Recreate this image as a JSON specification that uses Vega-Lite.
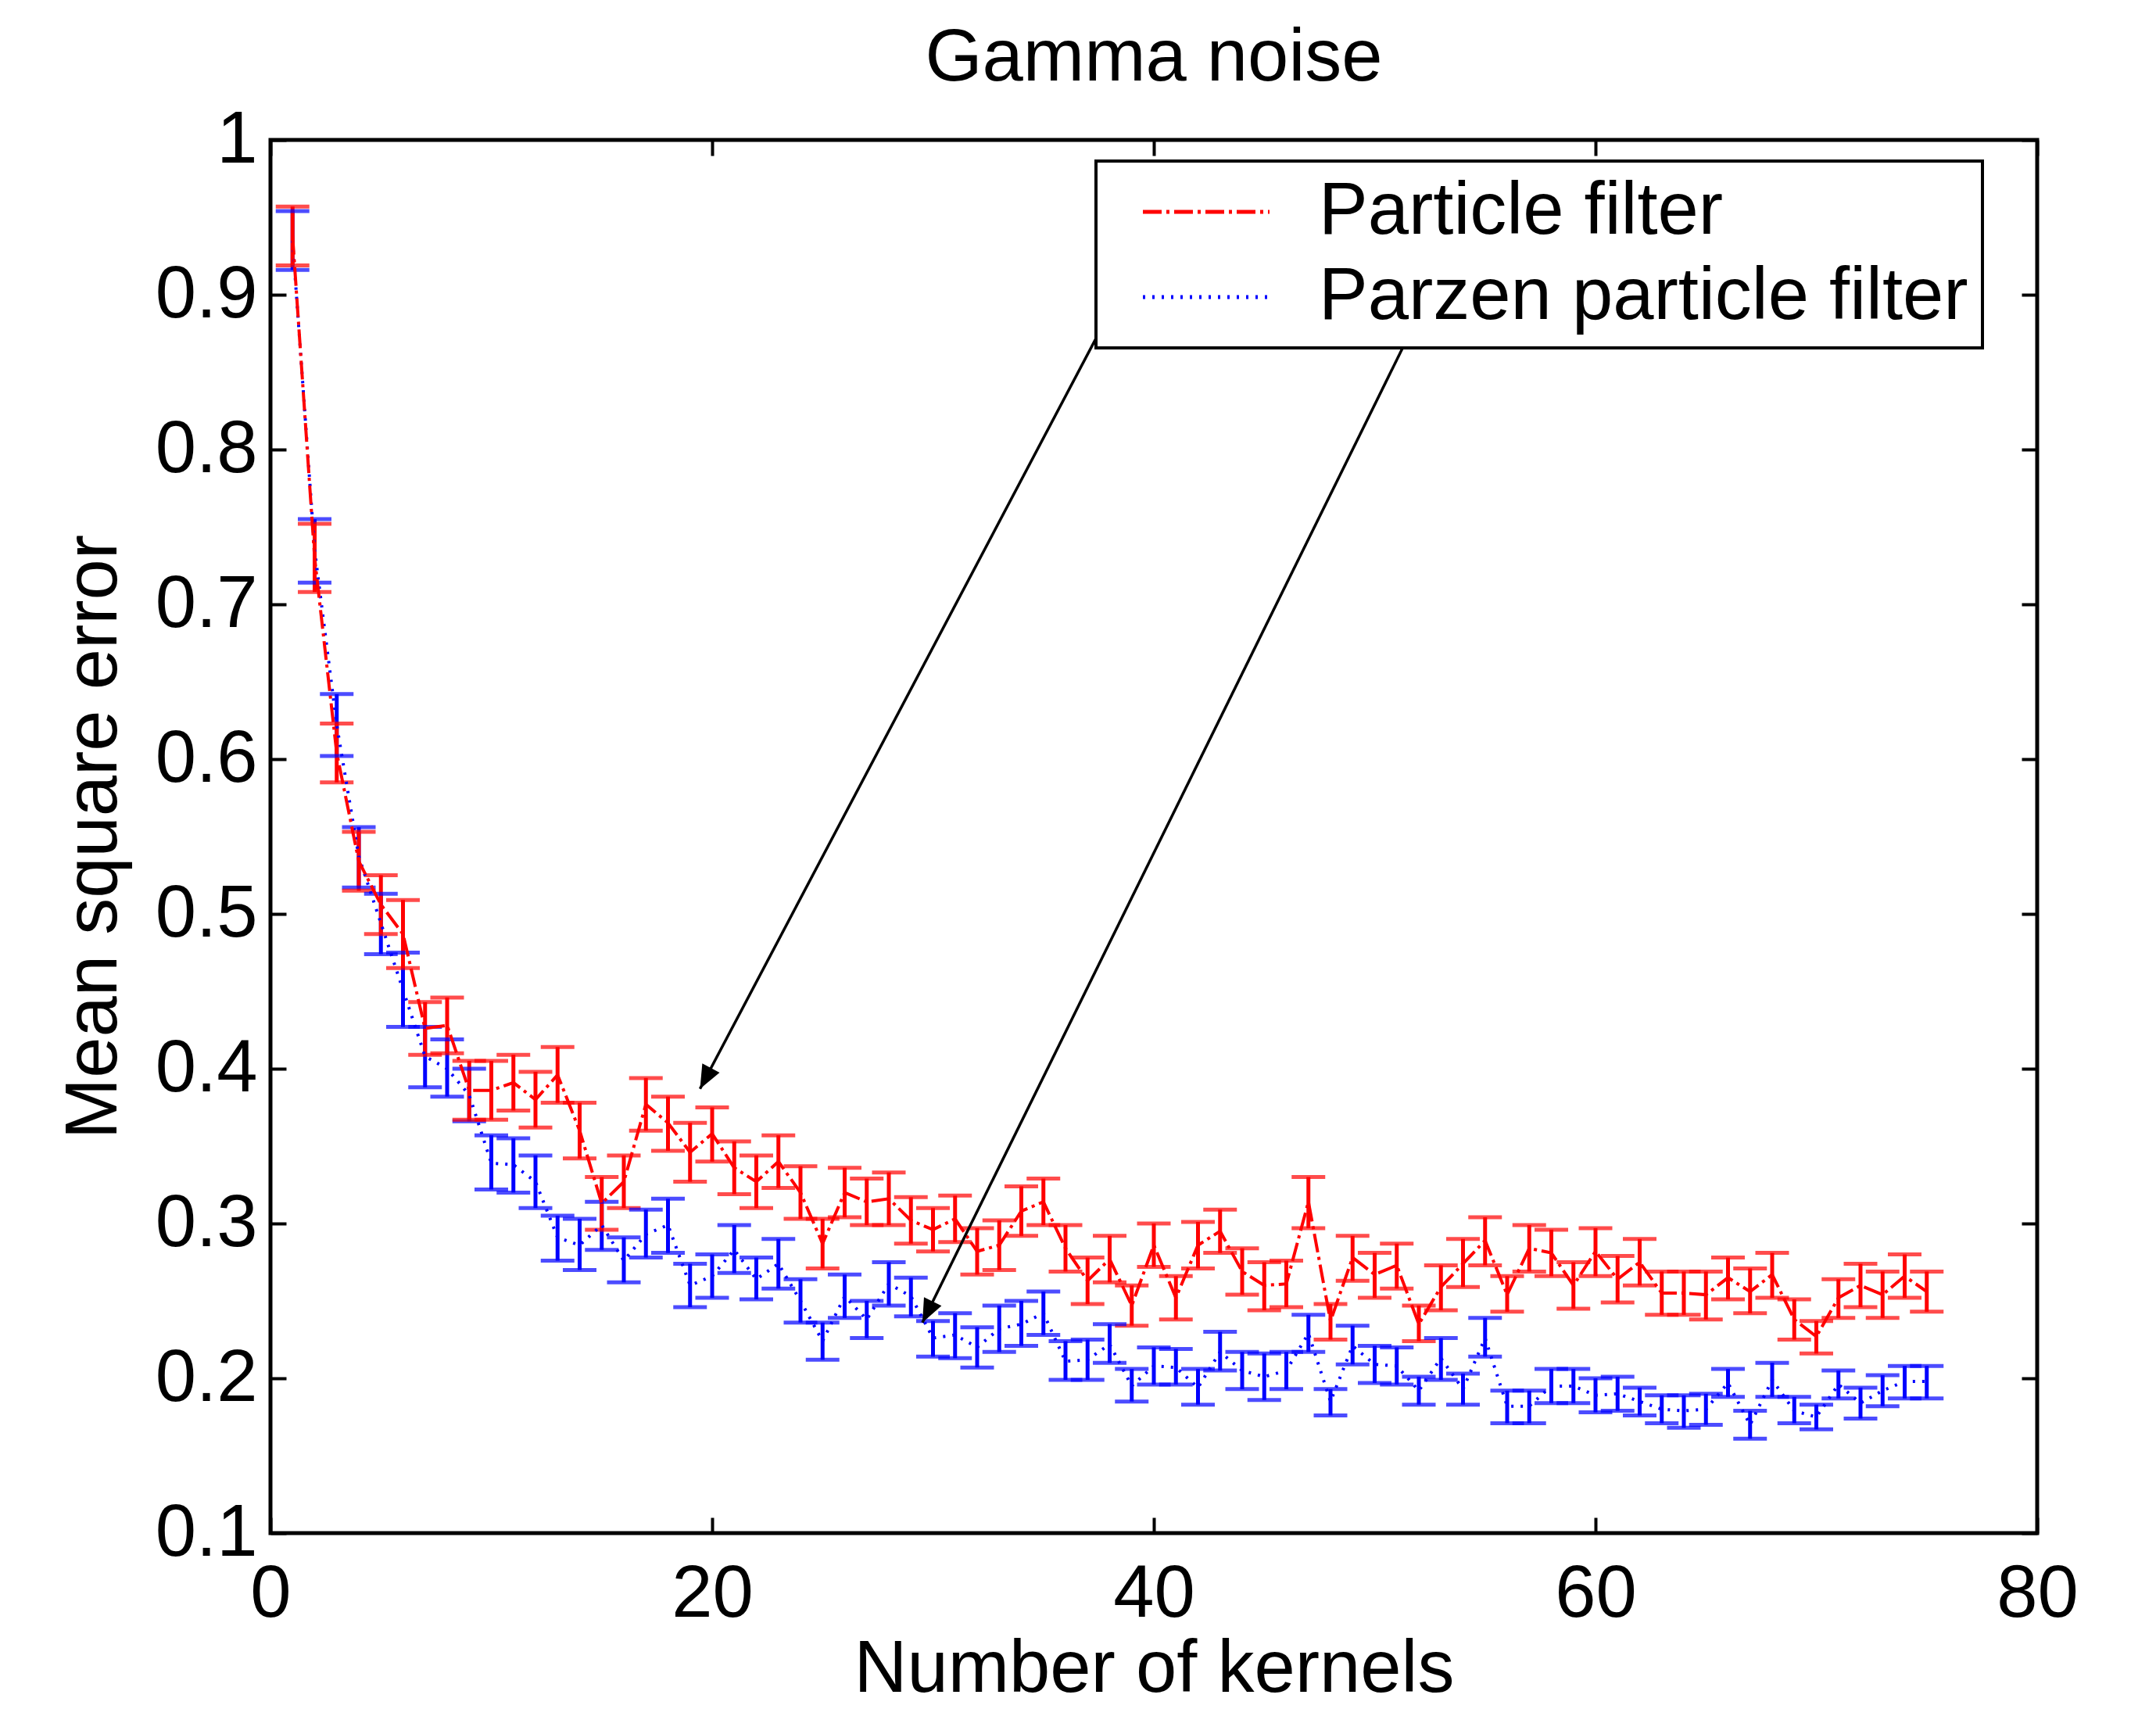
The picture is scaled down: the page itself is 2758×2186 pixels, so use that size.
{
"$schema": "https://vega.github.io/schema/vega-lite/v6.json",
"width": 2260, "height": 1782,
"autosize": {"type": "none"},
"padding": {"left": 346, "top": 179, "right": 152, "bottom": 225},
"background": "white",
"title": {"text": "Gamma noise", "fontSize": 94, "font": "Liberation Sans", "fontWeight": "normal", "color": "black", "anchor": "middle", "frame": "group", "baseline": "bottom", "offset": -85},
"config": {
  "view": {"stroke": "black", "strokeWidth": 5},
  "font": "Liberation Sans",
  "axis": {"grid": false, "domain": false, "tickColor": "black", "tickWidth": 4, "tickSize": -20, "labelColor": "black", "labelFont": "Liberation Sans", "labelFontSize": 94, "titleFont": "Liberation Sans", "titleFontSize": 94, "titleFontWeight": "normal", "titleColor": "black", "labelFlush": false, "labelOverlap": false, "labelBound": false},
  "legend": {"strokeWidth": 4}
},
"datasets": {
"pts": [
{"kernels":1,"series":"Parzen particle filter","mse":0.935,"lo":0.916,"hi":0.954},
{"kernels":2,"series":"Parzen particle filter","mse":0.735,"lo":0.714,"hi":0.755},
{"kernels":3,"series":"Parzen particle filter","mse":0.622,"lo":0.602,"hi":0.642},
{"kernels":4,"series":"Parzen particle filter","mse":0.537,"lo":0.517,"hi":0.556},
{"kernels":5,"series":"Parzen particle filter","mse":0.494,"lo":0.474,"hi":0.513},
{"kernels":6,"series":"Parzen particle filter","mse":0.451,"lo":0.427,"hi":0.475},
{"kernels":7,"series":"Parzen particle filter","mse":0.408,"lo":0.388,"hi":0.427},
{"kernels":8,"series":"Parzen particle filter","mse":0.400,"lo":0.382,"hi":0.419},
{"kernels":9,"series":"Parzen particle filter","mse":0.383,"lo":0.366,"hi":0.400},
{"kernels":10,"series":"Parzen particle filter","mse":0.339,"lo":0.322,"hi":0.357},
{"kernels":11,"series":"Parzen particle filter","mse":0.338,"lo":0.320,"hi":0.355},
{"kernels":12,"series":"Parzen particle filter","mse":0.327,"lo":0.310,"hi":0.344},
{"kernels":13,"series":"Parzen particle filter","mse":0.291,"lo":0.276,"hi":0.305},
{"kernels":14,"series":"Parzen particle filter","mse":0.286,"lo":0.270,"hi":0.303},
{"kernels":15,"series":"Parzen particle filter","mse":0.299,"lo":0.283,"hi":0.314},
{"kernels":16,"series":"Parzen particle filter","mse":0.276,"lo":0.262,"hi":0.291},
{"kernels":17,"series":"Parzen particle filter","mse":0.293,"lo":0.278,"hi":0.309},
{"kernels":18,"series":"Parzen particle filter","mse":0.299,"lo":0.281,"hi":0.316},
{"kernels":19,"series":"Parzen particle filter","mse":0.260,"lo":0.246,"hi":0.274},
{"kernels":20,"series":"Parzen particle filter","mse":0.266,"lo":0.252,"hi":0.280},
{"kernels":21,"series":"Parzen particle filter","mse":0.283,"lo":0.268,"hi":0.299},
{"kernels":22,"series":"Parzen particle filter","mse":0.264,"lo":0.251,"hi":0.278},
{"kernels":23,"series":"Parzen particle filter","mse":0.274,"lo":0.258,"hi":0.290},
{"kernels":24,"series":"Parzen particle filter","mse":0.250,"lo":0.236,"hi":0.264},
{"kernels":25,"series":"Parzen particle filter","mse":0.224,"lo":0.212,"hi":0.236},
{"kernels":26,"series":"Parzen particle filter","mse":0.253,"lo":0.239,"hi":0.267},
{"kernels":27,"series":"Parzen particle filter","mse":0.238,"lo":0.226,"hi":0.250},
{"kernels":28,"series":"Parzen particle filter","mse":0.261,"lo":0.247,"hi":0.275},
{"kernels":29,"series":"Parzen particle filter","mse":0.253,"lo":0.240,"hi":0.265},
{"kernels":30,"series":"Parzen particle filter","mse":0.226,"lo":0.214,"hi":0.237},
{"kernels":31,"series":"Parzen particle filter","mse":0.228,"lo":0.213,"hi":0.242},
{"kernels":32,"series":"Parzen particle filter","mse":0.220,"lo":0.207,"hi":0.233},
{"kernels":33,"series":"Parzen particle filter","mse":0.232,"lo":0.217,"hi":0.247},
{"kernels":34,"series":"Parzen particle filter","mse":0.235,"lo":0.221,"hi":0.250},
{"kernels":35,"series":"Parzen particle filter","mse":0.242,"lo":0.228,"hi":0.256},
{"kernels":36,"series":"Parzen particle filter","mse":0.211,"lo":0.199,"hi":0.224},
{"kernels":37,"series":"Parzen particle filter","mse":0.212,"lo":0.199,"hi":0.225},
{"kernels":38,"series":"Parzen particle filter","mse":0.222,"lo":0.210,"hi":0.235},
{"kernels":39,"series":"Parzen particle filter","mse":0.195,"lo":0.185,"hi":0.206},
{"kernels":40,"series":"Parzen particle filter","mse":0.208,"lo":0.196,"hi":0.220},
{"kernels":41,"series":"Parzen particle filter","mse":0.207,"lo":0.196,"hi":0.219},
{"kernels":42,"series":"Parzen particle filter","mse":0.194,"lo":0.183,"hi":0.206},
{"kernels":43,"series":"Parzen particle filter","mse":0.217,"lo":0.205,"hi":0.230},
{"kernels":44,"series":"Parzen particle filter","mse":0.205,"lo":0.193,"hi":0.217},
{"kernels":45,"series":"Parzen particle filter","mse":0.201,"lo":0.186,"hi":0.216},
{"kernels":46,"series":"Parzen particle filter","mse":0.205,"lo":0.193,"hi":0.217},
{"kernels":47,"series":"Parzen particle filter","mse":0.229,"lo":0.217,"hi":0.241},
{"kernels":48,"series":"Parzen particle filter","mse":0.185,"lo":0.176,"hi":0.193},
{"kernels":49,"series":"Parzen particle filter","mse":0.221,"lo":0.209,"hi":0.234},
{"kernels":50,"series":"Parzen particle filter","mse":0.209,"lo":0.197,"hi":0.221},
{"kernels":51,"series":"Parzen particle filter","mse":0.208,"lo":0.196,"hi":0.220},
{"kernels":52,"series":"Parzen particle filter","mse":0.192,"lo":0.183,"hi":0.201},
{"kernels":53,"series":"Parzen particle filter","mse":0.213,"lo":0.199,"hi":0.226},
{"kernels":54,"series":"Parzen particle filter","mse":0.193,"lo":0.183,"hi":0.203},
{"kernels":55,"series":"Parzen particle filter","mse":0.226,"lo":0.214,"hi":0.239},
{"kernels":56,"series":"Parzen particle filter","mse":0.182,"lo":0.171,"hi":0.192},
{"kernels":57,"series":"Parzen particle filter","mse":0.182,"lo":0.171,"hi":0.192},
{"kernels":58,"series":"Parzen particle filter","mse":0.195,"lo":0.184,"hi":0.206},
{"kernels":59,"series":"Parzen particle filter","mse":0.195,"lo":0.184,"hi":0.206},
{"kernels":60,"series":"Parzen particle filter","mse":0.189,"lo":0.178,"hi":0.200},
{"kernels":61,"series":"Parzen particle filter","mse":0.190,"lo":0.179,"hi":0.201},
{"kernels":62,"series":"Parzen particle filter","mse":0.185,"lo":0.176,"hi":0.194},
{"kernels":63,"series":"Parzen particle filter","mse":0.180,"lo":0.171,"hi":0.189},
{"kernels":64,"series":"Parzen particle filter","mse":0.179,"lo":0.168,"hi":0.189},
{"kernels":65,"series":"Parzen particle filter","mse":0.180,"lo":0.170,"hi":0.190},
{"kernels":66,"series":"Parzen particle filter","mse":0.197,"lo":0.188,"hi":0.206},
{"kernels":67,"series":"Parzen particle filter","mse":0.170,"lo":0.161,"hi":0.179},
{"kernels":68,"series":"Parzen particle filter","mse":0.199,"lo":0.188,"hi":0.210},
{"kernels":69,"series":"Parzen particle filter","mse":0.179,"lo":0.171,"hi":0.188},
{"kernels":70,"series":"Parzen particle filter","mse":0.175,"lo":0.167,"hi":0.183},
{"kernels":71,"series":"Parzen particle filter","mse":0.196,"lo":0.187,"hi":0.205},
{"kernels":72,"series":"Parzen particle filter","mse":0.184,"lo":0.174,"hi":0.194},
{"kernels":73,"series":"Parzen particle filter","mse":0.192,"lo":0.182,"hi":0.202},
{"kernels":74,"series":"Parzen particle filter","mse":0.198,"lo":0.187,"hi":0.208},
{"kernels":75,"series":"Parzen particle filter","mse":0.198,"lo":0.187,"hi":0.208},
{"kernels":1,"series":"Particle filter","mse":0.938,"lo":0.919,"hi":0.957},
{"kernels":2,"series":"Particle filter","mse":0.730,"lo":0.708,"hi":0.752},
{"kernels":3,"series":"Particle filter","mse":0.604,"lo":0.585,"hi":0.623},
{"kernels":4,"series":"Particle filter","mse":0.534,"lo":0.515,"hi":0.553},
{"kernels":5,"series":"Particle filter","mse":0.506,"lo":0.487,"hi":0.525},
{"kernels":6,"series":"Particle filter","mse":0.487,"lo":0.465,"hi":0.509},
{"kernels":7,"series":"Particle filter","mse":0.426,"lo":0.409,"hi":0.443},
{"kernels":8,"series":"Particle filter","mse":0.428,"lo":0.410,"hi":0.446},
{"kernels":9,"series":"Particle filter","mse":0.386,"lo":0.367,"hi":0.405},
{"kernels":10,"series":"Particle filter","mse":0.386,"lo":0.367,"hi":0.405},
{"kernels":11,"series":"Particle filter","mse":0.391,"lo":0.373,"hi":0.409},
{"kernels":12,"series":"Particle filter","mse":0.380,"lo":0.362,"hi":0.398},
{"kernels":13,"series":"Particle filter","mse":0.396,"lo":0.378,"hi":0.414},
{"kernels":14,"series":"Particle filter","mse":0.360,"lo":0.342,"hi":0.378},
{"kernels":15,"series":"Particle filter","mse":0.313,"lo":0.296,"hi":0.330},
{"kernels":16,"series":"Particle filter","mse":0.327,"lo":0.310,"hi":0.344},
{"kernels":17,"series":"Particle filter","mse":0.377,"lo":0.360,"hi":0.394},
{"kernels":18,"series":"Particle filter","mse":0.365,"lo":0.347,"hi":0.382},
{"kernels":19,"series":"Particle filter","mse":0.346,"lo":0.327,"hi":0.365},
{"kernels":20,"series":"Particle filter","mse":0.358,"lo":0.340,"hi":0.375},
{"kernels":21,"series":"Particle filter","mse":0.336,"lo":0.319,"hi":0.353},
{"kernels":22,"series":"Particle filter","mse":0.327,"lo":0.310,"hi":0.344},
{"kernels":23,"series":"Particle filter","mse":0.340,"lo":0.323,"hi":0.357},
{"kernels":24,"series":"Particle filter","mse":0.320,"lo":0.303,"hi":0.337},
{"kernels":25,"series":"Particle filter","mse":0.287,"lo":0.271,"hi":0.303},
{"kernels":26,"series":"Particle filter","mse":0.320,"lo":0.304,"hi":0.336},
{"kernels":27,"series":"Particle filter","mse":0.314,"lo":0.299,"hi":0.329},
{"kernels":28,"series":"Particle filter","mse":0.316,"lo":0.299,"hi":0.333},
{"kernels":29,"series":"Particle filter","mse":0.302,"lo":0.287,"hi":0.317},
{"kernels":30,"series":"Particle filter","mse":0.296,"lo":0.282,"hi":0.310},
{"kernels":31,"series":"Particle filter","mse":0.303,"lo":0.288,"hi":0.318},
{"kernels":32,"series":"Particle filter","mse":0.282,"lo":0.267,"hi":0.297},
{"kernels":33,"series":"Particle filter","mse":0.286,"lo":0.270,"hi":0.302},
{"kernels":34,"series":"Particle filter","mse":0.308,"lo":0.292,"hi":0.324},
{"kernels":35,"series":"Particle filter","mse":0.314,"lo":0.299,"hi":0.329},
{"kernels":36,"series":"Particle filter","mse":0.284,"lo":0.269,"hi":0.299},
{"kernels":37,"series":"Particle filter","mse":0.263,"lo":0.248,"hi":0.278},
{"kernels":38,"series":"Particle filter","mse":0.277,"lo":0.262,"hi":0.292},
{"kernels":39,"series":"Particle filter","mse":0.247,"lo":0.234,"hi":0.260},
{"kernels":40,"series":"Particle filter","mse":0.286,"lo":0.272,"hi":0.300},
{"kernels":41,"series":"Particle filter","mse":0.252,"lo":0.238,"hi":0.266},
{"kernels":42,"series":"Particle filter","mse":0.286,"lo":0.271,"hi":0.301},
{"kernels":43,"series":"Particle filter","mse":0.295,"lo":0.281,"hi":0.309},
{"kernels":44,"series":"Particle filter","mse":0.269,"lo":0.254,"hi":0.284},
{"kernels":45,"series":"Particle filter","mse":0.260,"lo":0.244,"hi":0.275},
{"kernels":46,"series":"Particle filter","mse":0.261,"lo":0.246,"hi":0.276},
{"kernels":47,"series":"Particle filter","mse":0.314,"lo":0.297,"hi":0.330},
{"kernels":48,"series":"Particle filter","mse":0.237,"lo":0.225,"hi":0.248},
{"kernels":49,"series":"Particle filter","mse":0.278,"lo":0.263,"hi":0.292},
{"kernels":50,"series":"Particle filter","mse":0.267,"lo":0.252,"hi":0.281},
{"kernels":51,"series":"Particle filter","mse":0.273,"lo":0.258,"hi":0.287},
{"kernels":52,"series":"Particle filter","mse":0.235,"lo":0.224,"hi":0.247},
{"kernels":53,"series":"Particle filter","mse":0.259,"lo":0.244,"hi":0.273},
{"kernels":54,"series":"Particle filter","mse":0.274,"lo":0.259,"hi":0.290},
{"kernels":55,"series":"Particle filter","mse":0.289,"lo":0.273,"hi":0.304},
{"kernels":56,"series":"Particle filter","mse":0.254,"lo":0.243,"hi":0.266},
{"kernels":57,"series":"Particle filter","mse":0.284,"lo":0.269,"hi":0.299},
{"kernels":58,"series":"Particle filter","mse":0.281,"lo":0.266,"hi":0.296},
{"kernels":59,"series":"Particle filter","mse":0.260,"lo":0.245,"hi":0.275},
{"kernels":60,"series":"Particle filter","mse":0.282,"lo":0.266,"hi":0.297},
{"kernels":61,"series":"Particle filter","mse":0.264,"lo":0.249,"hi":0.279},
{"kernels":62,"series":"Particle filter","mse":0.275,"lo":0.260,"hi":0.290},
{"kernels":63,"series":"Particle filter","mse":0.255,"lo":0.241,"hi":0.269},
{"kernels":64,"series":"Particle filter","mse":0.255,"lo":0.241,"hi":0.269},
{"kernels":65,"series":"Particle filter","mse":0.254,"lo":0.238,"hi":0.269},
{"kernels":66,"series":"Particle filter","mse":0.265,"lo":0.251,"hi":0.278},
{"kernels":67,"series":"Particle filter","mse":0.256,"lo":0.242,"hi":0.271},
{"kernels":68,"series":"Particle filter","mse":0.267,"lo":0.252,"hi":0.281},
{"kernels":69,"series":"Particle filter","mse":0.238,"lo":0.225,"hi":0.251},
{"kernels":70,"series":"Particle filter","mse":0.227,"lo":0.216,"hi":0.237},
{"kernels":71,"series":"Particle filter","mse":0.252,"lo":0.239,"hi":0.264},
{"kernels":72,"series":"Particle filter","mse":0.260,"lo":0.246,"hi":0.274},
{"kernels":73,"series":"Particle filter","mse":0.254,"lo":0.239,"hi":0.269},
{"kernels":74,"series":"Particle filter","mse":0.266,"lo":0.252,"hi":0.280},
{"kernels":75,"series":"Particle filter","mse":0.256,"lo":0.243,"hi":0.269}
],
"arrows": [
{"from_k": 39.94, "from_v": 0.941, "to_k": 19.45, "to_v": 0.387, "angle": 207.8},
{"from_k": 51.28, "from_v": 0.866, "to_k": 29.52, "to_v": 0.236, "angle": 206.2}
]
},
"data": {"name": "pts"},
"layer": [
  {
    "mark": {"type": "rule", "strokeWidth": 5},
    "encoding": {
      "x": {"field": "kernels", "type": "quantitative", "scale": {"domain": [0, 80], "nice": false, "zero": false},
            "axis": {"title": "Number of kernels", "values": [0, 20, 40, 60, 80], "labelPadding": 52, "titlePadding": 3}},
      "y": {"field": "lo", "type": "quantitative", "scale": {"domain": [0.1, 1], "nice": false, "zero": false},
            "axis": {"title": "Mean square error", "values": [0.1, 0.2, 0.3, 0.4, 0.5, 0.6, 0.7, 0.8, 0.9, 1], "format": "~g", "labelPadding": 37, "titlePadding": 30}},
      "y2": {"field": "hi"},
      "color": {"condition": {"test": "datum.series === 'Particle filter'", "value": "#ff0000"}, "value": "#0000ff"}
    }
  },
  {
    "mark": {"type": "tick", "orient": "horizontal", "size": 43, "thickness": 5},
    "encoding": {
      "x": {"field": "kernels", "type": "quantitative", "axis": null},
      "y": {"field": "lo", "type": "quantitative", "axis": null},
      "color": {"condition": {"test": "datum.series === 'Particle filter'", "value": "#ff0000"}, "value": "#0000ff"}
    }
  },
  {
    "mark": {"type": "tick", "orient": "horizontal", "size": 43, "thickness": 5},
    "encoding": {
      "x": {"field": "kernels", "type": "quantitative", "axis": null},
      "y": {"field": "hi", "type": "quantitative", "axis": null},
      "color": {"condition": {"test": "datum.series === 'Particle filter'", "value": "#ff0000"}, "value": "#0000ff"}
    }
  },
  {
    "mark": {"type": "line", "strokeWidth": 4},
    "encoding": {
      "x": {"field": "kernels", "type": "quantitative", "axis": null},
      "y": {"field": "mse", "type": "quantitative", "axis": null},
      "color": {"field": "series", "type": "nominal", "title": null,
        "scale": {"domain": ["Particle filter", "Parzen particle filter"], "range": ["#ff0000", "#0000ff"]},
        "legend": {"orient": "none", "legendX": 1056, "legendY": 27, "fillColor": "white", "strokeColor": "black", "padding": 18, "labelFont": "Liberation Sans", "labelFontSize": 94, "labelColor": "black", "symbolSize": 6561, "symbolStrokeWidth": 5, "symbolOffset": 76, "labelOffset": 97, "rowPadding": 15, "labelLimit": 2000, "symbolType": "M-2,0L2,0"}},
      "strokeDash": {"field": "series", "type": "nominal", "title": null,
        "scale": {"domain": ["Particle filter", "Parzen particle filter"], "range": [[24, 6, 4, 6], [3, 9]]},
        "legend": {"orient": "none", "legendX": 1056, "legendY": 27, "fillColor": "white", "strokeColor": "black", "padding": 18, "labelFont": "Liberation Sans", "labelFontSize": 94, "labelColor": "black", "symbolSize": 6561, "symbolStrokeWidth": 5, "symbolOffset": 76, "labelOffset": 97, "rowPadding": 15, "labelLimit": 2000, "symbolType": "M-2,0L2,0"}}
    }
  },
  {
    "mark": {"type": "point", "opacity": 0},
    "encoding": {
      "x": {"field": "kernels", "type": "quantitative", "axis": {"orient": "top", "labels": false, "title": null, "values": [0, 20, 40, 60, 80]}},
      "y": {"field": "mse", "type": "quantitative", "axis": {"orient": "right", "labels": false, "title": null, "values": [0.1, 0.2, 0.3, 0.4, 0.5, 0.6, 0.7, 0.8, 0.9, 1]}}
    }
  },
  {
    "data": {"name": "arrows"},
    "mark": {"type": "rule", "color": "black", "strokeWidth": 3.5},
    "encoding": {
      "x": {"field": "from_k", "type": "quantitative", "axis": null},
      "y": {"field": "from_v", "type": "quantitative", "axis": null},
      "x2": {"field": "to_k"},
      "y2": {"field": "to_v"}
    }
  },
  {
    "data": {"name": "arrows"},
    "mark": {"type": "point", "shape": "M0,0 L-0.5,1.2 L0.5,1.2 Z", "filled": true, "color": "black", "opacity": 1, "size": 2500},
    "encoding": {
      "x": {"field": "to_k", "type": "quantitative", "axis": null},
      "y": {"field": "to_v", "type": "quantitative", "axis": null},
      "angle": {"field": "angle", "type": "quantitative", "scale": null}
    }
  }
],
"resolve": {"axis": {"x": "independent", "y": "independent"}}
}
